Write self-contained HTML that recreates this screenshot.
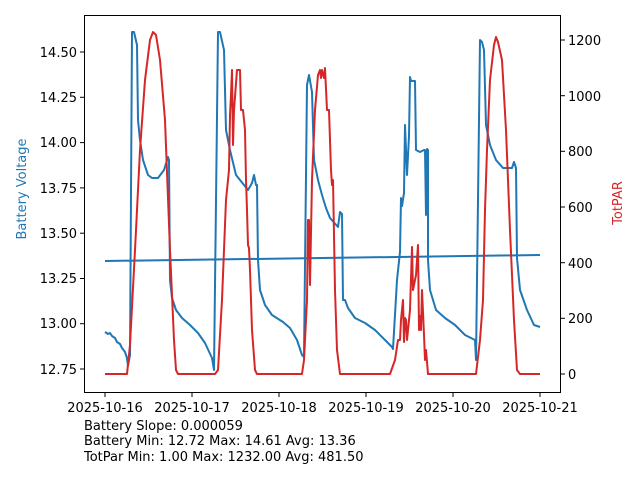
<!DOCTYPE html>
<html><head><style>body{margin:0;background:#fff}svg{font-family:"DejaVu Sans","Liberation Sans",sans-serif}</style></head>
<body>
<svg width="640" height="480" viewBox="0 0 640 480" xmlns="http://www.w3.org/2000/svg">
<rect width="640" height="480" fill="#fff"/>
<g fill="none" stroke-width="2" stroke-linejoin="round">
<polyline stroke="#1f77b4" points="105,332 108,334 110,333 112,336 115,338 117,342 120,344 122,348 125,352 127,358 128,366 130,355 132,32 134,32 137,45 138,120 140,140 143,160 148,175 152,178 158,178 164,170 168,157 169,160 170,280 172,298 176,310 182,318 190,325 198,333 205,343 212,358 214,370 218,32 220,32 224,50 226,130 230,150 236,175 244,185 248,190 252,183 254,175 256,185 257,185 258,260 260,290 265,305 272,315 283,322 290,328 297,340 302,355 304,357 307,85 309,75 312,92 314,160 318,180 322,195 326,208 330,218 338,227 340,212 342,214 343,300 345,300 348,308 355,318 365,323 375,330 385,340 392,347 393,349 397,280 400,252 401,198 402,206 404,193 405,125 407,175 409,136 410,77 411,81 415,81 416,150 420,152 424,150 425,150 426,215 427,149 428,150 428,260 430,290 436,310 445,318 455,325 465,335 475,340 476,360 480,40 482,42 484,50 486,125 490,145 496,160 503,168 512,168 514,162 516,168 517,258 520,290 527,310 534,325 540,327"/>
<polyline stroke="#1f77b4" points="105,261 540,255"/>
<polyline stroke="#d62728" points="105,374 127,374 130,345 135,250 140,150 145,80 150,40 153,32 156,35 160,60 165,120 170,250 174,340 176,370 178,374 215,374 218,370 222,300 226,200 229,170 230,115 231,95 232,70 233,145 234,110 237,70 240,70 241,110 243,110 245,130 246,180 247,210 248,245 249,248 250,270 252,330 255,370 257,374 302,374 304,360 307,300 308,220 309,220 310,285 312,180 315,110 318,75 320,70 321,78 322,70 324,78 325,68 327,110 329,110 331,170 332,185 333,180 335,290 337,350 340,374 390,374 395,360 398,340 400,340 401,320 403,300 404,342 405,318 406,320 407,340 410,310 412,247 413,290 416,275 418,245 419,330 420,316 421,330 422,290 424,335 425,360 426,350 428,374 476,374 480,340 483,300 485,210 487,150 490,80 494,45 496,37 498,42 502,60 506,130 510,230 514,320 517,370 520,374 540,374"/>
</g>
<rect x="84.5" y="15.5" width="476" height="377" fill="none" stroke="#000" stroke-width="1"/>
<g stroke="#000" stroke-width="1">
<line x1="84" x2="80" y1="52" y2="52"/><line x1="84" x2="80" y1="97.3" y2="97.3"/><line x1="84" x2="80" y1="142.6" y2="142.6"/><line x1="84" x2="80" y1="187.9" y2="187.9"/><line x1="84" x2="80" y1="233.2" y2="233.2"/><line x1="84" x2="80" y1="278.5" y2="278.5"/><line x1="84" x2="80" y1="323.7" y2="323.7"/><line x1="84" x2="80" y1="369" y2="369"/>
<line x1="561" x2="565" y1="374" y2="374"/><line x1="561" x2="565" y1="318.3" y2="318.3"/><line x1="561" x2="565" y1="262.7" y2="262.7"/><line x1="561" x2="565" y1="207" y2="207"/><line x1="561" x2="565" y1="151.3" y2="151.3"/><line x1="561" x2="565" y1="95.7" y2="95.7"/><line x1="561" x2="565" y1="40" y2="40"/>
<line x1="105" x2="105" y1="393" y2="397"/><line x1="192" x2="192" y1="393" y2="397"/><line x1="279" x2="279" y1="393" y2="397"/><line x1="366" x2="366" y1="393" y2="397"/><line x1="453" x2="453" y1="393" y2="397"/><line x1="540" x2="540" y1="393" y2="397"/>
</g>
<g font-size="13" fill="#000" text-anchor="end">
<text x="77" y="57">14.50</text><text x="77" y="102">14.25</text><text x="77" y="147">14.00</text><text x="77" y="193">13.75</text><text x="77" y="238">13.50</text><text x="77" y="283">13.25</text><text x="77" y="328">13.00</text><text x="77" y="374">12.75</text>
</g>
<g font-size="13" fill="#000">
<text x="568" y="379">0</text><text x="568" y="323">200</text><text x="568" y="268">400</text><text x="568" y="212">600</text><text x="568" y="156">800</text><text x="568" y="101">1000</text><text x="568" y="45">1200</text>
</g>
<g font-size="13" fill="#000" text-anchor="middle">
<text x="105" y="412">2025-10-16</text><text x="192" y="412">2025-10-17</text><text x="279" y="412">2025-10-18</text><text x="366" y="412">2025-10-19</text><text x="453" y="412">2025-10-20</text><text x="540" y="412">2025-10-21</text>
</g>
<text transform="translate(26,189) rotate(-90)" text-anchor="middle" font-size="13" fill="#1f77b4">Battery Voltage</text>
<text transform="translate(622,203) rotate(-90)" text-anchor="middle" font-size="13" fill="#d62728">TotPAR</text>
<g font-size="13" fill="#000">
<text x="84" y="430">Battery Slope: 0.000059</text>
<text x="84" y="445">Battery Min: 12.72 Max: 14.61 Avg: 13.36</text>
<text x="84" y="461">TotPar Min: 1.00 Max: 1232.00 Avg: 481.50</text>
</g>
</svg>
</body></html>
